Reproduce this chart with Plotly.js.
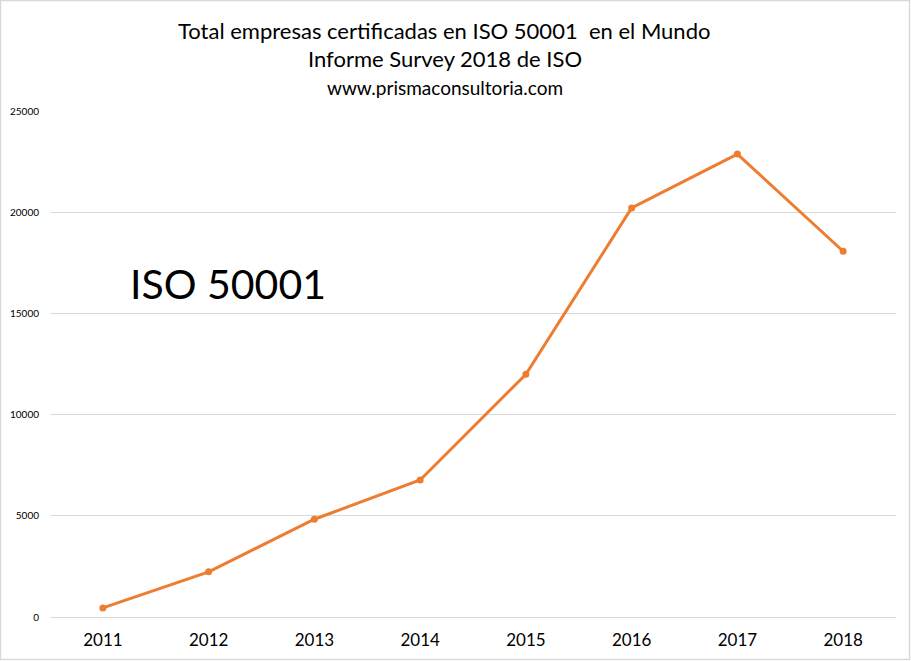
<!DOCTYPE html>
<html>
<head>
<meta charset="utf-8">
<script src="https://cdn.plot.ly/plotly-3.0.1.min.js"></script>
<style>html,body{margin:0;padding:0;background:#fff;}#chart{width:911px;height:661px;}</style>
</head>
<body>
<div id="chart"></div>
<script>
const years = ['2011','2012','2013','2014','2015','2016','2017','2018'];
const certificados = [450, 2230, 4830, 6770, 11990, 20210, 22870, 18070];
const yTicks = [0, 5000, 10000, 15000, 20000, 25000];
const titleLines = ['Total empresas certificadas en ISO 50001  en el Mundo', 'Informe Survey 2018 de ISO', 'www.prismaconsultoria.com'];
const bigLabel = 'ISO 50001';

const W = 911, H = 661;
const L = 50, R = 15, T = 111, B = 44;
const pw = W - L - R, ph = H - T - B;
const px = x => (x - L) / pw;
const py = y => (H - B - y) / ph;
const FONT = 'Lato, "Open Sans", sans-serif';

const trace = {
  type: 'scatter', mode: 'lines+markers',
  x: years, y: certificados,
  line: {color: '#ED7D31', width: 3},
  marker: {color: '#ED7D31', size: 7},
  hoverinfo: 'x+y'
};

const layout = {
  width: W, height: H,
  margin: {l: L, r: R, t: T, b: B, pad: 0},
  paper_bgcolor: '#fff', plot_bgcolor: '#fff',
  showlegend: false,
  font: {family: FONT, color: '#000'},
  xaxis: {
    type: 'category', range: [-0.5, years.length - 0.5],
    showgrid: false, zeroline: false, showline: false,
    ticks: '', tickfont: {size: 17, color: '#000', family: FONT}, ticklabelstandoff: 11,
    fixedrange: true
  },
  yaxis: {
    range: [0, 25000], tickvals: yTicks, ticktext: yTicks.map(String),
    showgrid: true, gridcolor: '#d9d9d9', gridwidth: 1,
    zeroline: true, zerolinecolor: '#d9d9d9', zerolinewidth: 1,
    showline: false, ticks: '', tickfont: {size: 10, color: '#000', family: FONT},
    ticklabelstandoff: 10, fixedrange: true
  },
  annotations: [
    {text: titleLines[0], x: px(444), y: py(30), xref: 'paper', yref: 'paper', showarrow: false, xanchor: 'center', yanchor: 'middle', font: {size: 22, color: '#000', family: FONT}},
    {text: titleLines[1], x: px(445), y: py(59), xref: 'paper', yref: 'paper', showarrow: false, xanchor: 'center', yanchor: 'middle', font: {size: 22, color: '#000', family: FONT}},
    {text: titleLines[2], x: px(445), y: py(87), xref: 'paper', yref: 'paper', showarrow: false, xanchor: 'center', yanchor: 'middle', font: {size: 19, color: '#000', family: FONT}},
    {text: bigLabel, x: px(228), y: py(283), xref: 'paper', yref: 'paper', showarrow: false, xanchor: 'center', yanchor: 'middle', font: {size: 41, color: '#000', family: FONT}}
  ],
  shapes: [
    {type: 'rect', xref: 'paper', yref: 'paper', x0: px(0.5), x1: px(909.5), y0: py(659.5), y1: py(0.5), line: {color: '#d9d9d9', width: 1.5}, layer: 'below'}
  ]
};

Plotly.newPlot('chart', [trace], layout, {displayModeBar: false, staticPlot: true});
</script>
</body>
</html>
